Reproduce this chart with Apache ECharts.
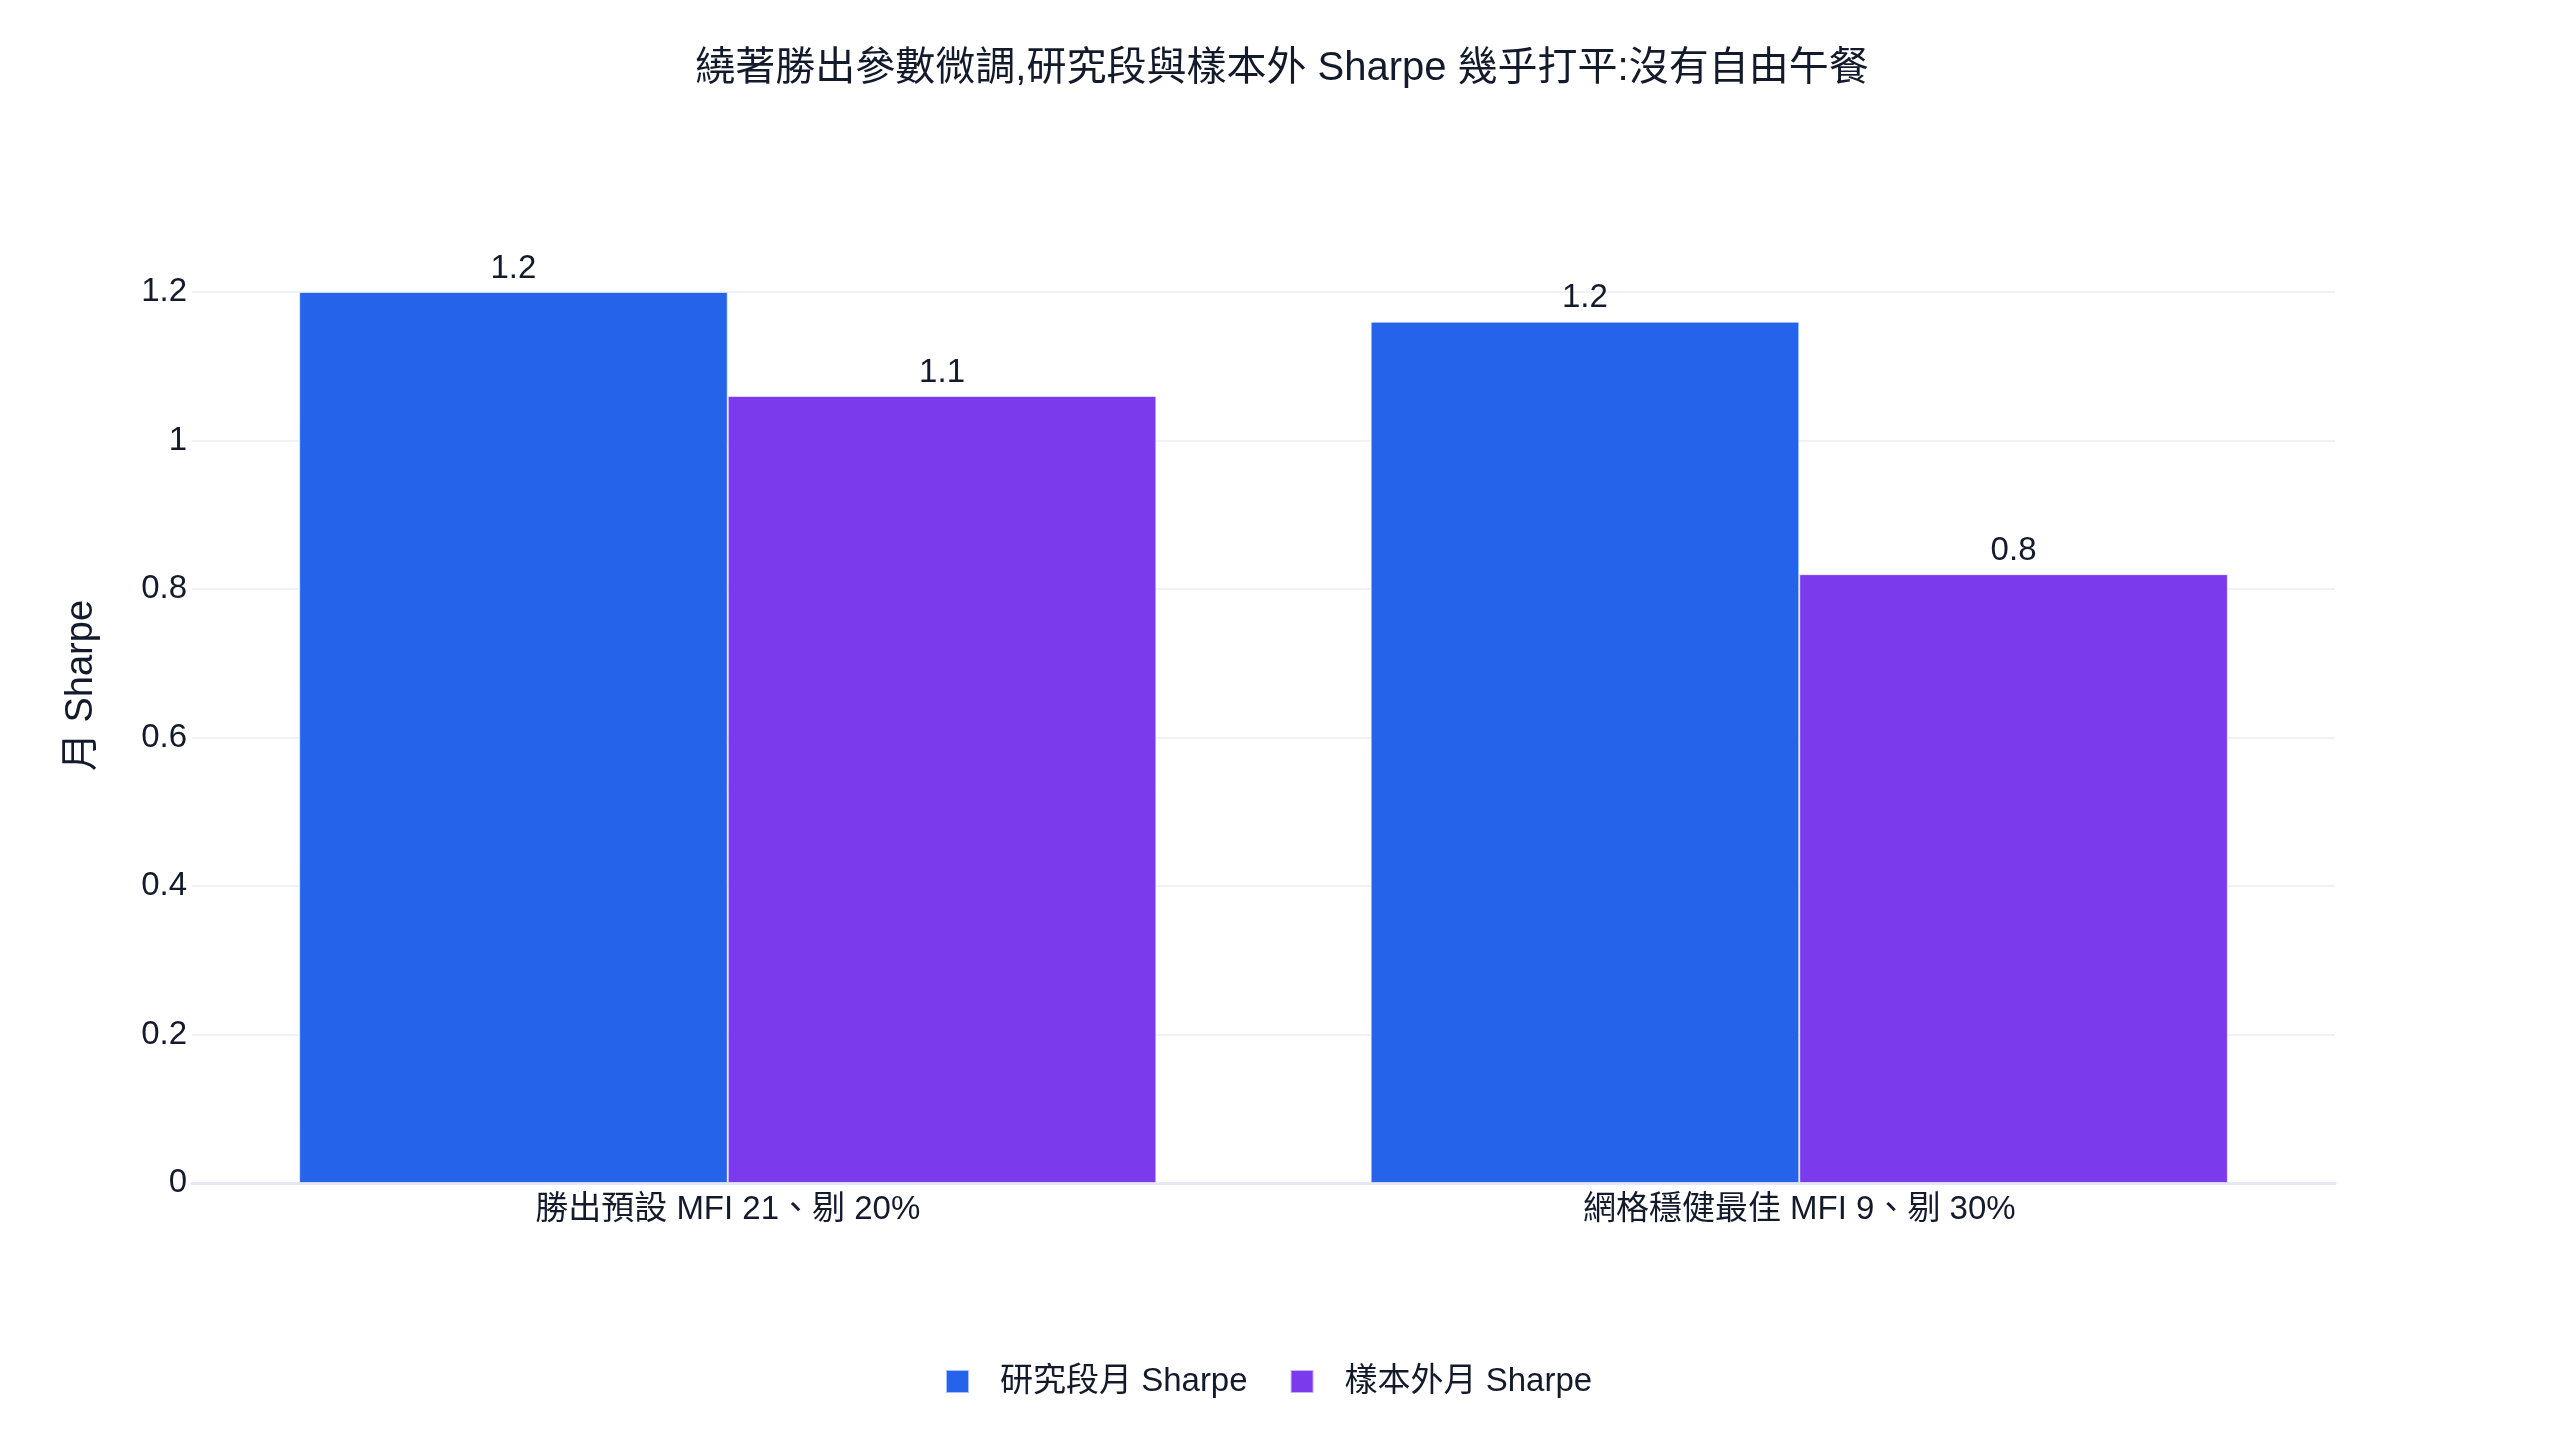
<!DOCTYPE html>
<html>
<head>
<meta charset="utf-8">
<script src="https://cdn.jsdelivr.net/npm/echarts@6/dist/echarts.min.js"></script>
<style>
  html, body { margin: 0; padding: 0; background: #fff; }
  #chart { width: 2560px; height: 1440px; }
</style>
</head>
<body>
<div id="chart"></div>
<script>
// 資料
var categories = ['勝出預設 MFI 21、剔 20%', '網格穩健最佳 MFI 9、剔 30%'];
var seriesNames = ['研究段月 Sharpe', '樣本外月 Sharpe'];
var researchSharpe = [1.20, 1.16];
var outSampleSharpe = [1.06, 0.82];
var yTicks = [0, 0.2, 0.4, 0.6, 0.8, 1, 1.2];

var FONT = '"Liberation Sans", Arial, "Noto Sans CJK TC", sans-serif';
var TXT = '#131a2b';

function DrawChart() {
    var chart = echarts.init(document.getElementById('chart'));
    var barLabel = {
        show: true,
        position: 'top',
        distance: 7,
        fontSize: 33,
        fontFamily: FONT,
        color: TXT,
        formatter: function (p) { return p.value.toFixed(1); }
    };
    var option = {
        backgroundColor: '#fff',
        animation: false,
        title: {
            text: '繞著勝出參數微調,研究段與樣本外 Sharpe 幾乎打平:沒有自由午餐',
            left: 1277,
            textAlign: 'center',
            top: 44,
            textStyle: { fontSize: 40, fontWeight: 'normal', color: TXT, fontFamily: FONT }
        },
        legend: {
            data: seriesNames,
            left: 940,
            top: 1360,
            icon: 'rect',
            itemWidth: 23,
            itemHeight: 23,
            itemGap: 42,
            textStyle: { fontSize: 33, color: TXT, fontFamily: FONT, padding: [0, 0, 0, 26] }
        },
        grid: { left: 192, right: 225, top: 292, bottom: 257, containLabel: false },
        xAxis: {
            type: 'category',
            data: categories,
            axisLine: { show: true, lineStyle: { color: '#e4e8f0', width: 3 } },
            axisTick: { show: false },
            axisLabel: { fontSize: 33, color: TXT, fontFamily: FONT, margin: 10 }
        },
        yAxis: {
            type: 'value',
            min: yTicks[0],
            max: yTicks[yTicks.length - 1],
            interval: 0.2,
            name: '月 Sharpe',
            nameLocation: 'middle',
            nameRotate: 90,
            nameGap: 91,
            nameTextStyle: { fontSize: 38, color: TXT, fontFamily: FONT, padding: [0, 0, 0, 104] },
            axisLine: { show: false },
            axisTick: { show: false },
            axisLabel: { fontSize: 33, color: TXT, fontFamily: FONT, margin: 5 },
            splitLine: { lineStyle: { color: '#eef1f7', width: 2 } }
        },
        series: [
            {
                name: seriesNames[0],
                type: 'bar',
                data: researchSharpe,
                barGap: '0%',
                barCategoryGap: '20%',
                itemStyle: { color: '#2563eb', borderColor: 'rgba(255,255,255,0.6)', borderWidth: 1 },
                label: barLabel
            },
            {
                name: seriesNames[1],
                type: 'bar',
                data: outSampleSharpe,
                barGap: '0%',
                barCategoryGap: '20%',
                itemStyle: { color: '#7c3aed', borderColor: 'rgba(255,255,255,0.6)', borderWidth: 1 },
                label: barLabel
            }
        ]
    };
    chart.setOption(option);
}

DrawChart();
</script>
</body>
</html>
